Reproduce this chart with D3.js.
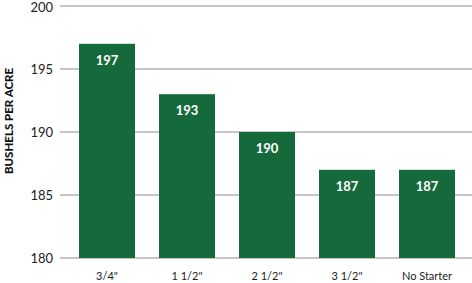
<!DOCTYPE html>
<html><head><meta charset="utf-8">
<script src="https://cdn.jsdelivr.net/npm/d3@7"></script>
<style>body{margin:0;background:#fff}svg{display:block}</style>
</head><body>
<script>
const categories = ["3/4\"", "1 1/2\"", "2 1/2\"", "3 1/2\"", "No Starter"];
const values = [197, 193, 190, 187, 187];
const yTicks = [180, 185, 190, 195, 200];

const W = 472, H = 283;
const svg = d3.select("body").append("svg").attr("width", W).attr("height", H);
const x = d3.scaleBand().domain(categories).range([67, 467]).paddingInner(0.3).paddingOuter(0.15);
const y = d3.scaleLinear().domain([180, 200]).range([258, 6]);

// gridlines
svg.append("g").selectAll("line").data(yTicks).join("line")
  .attr("x1", 60).attr("x2", W).attr("y1", d => y(d)).attr("y2", d => y(d))
  .attr("stroke", "#b3b3b3").attr("stroke-width", 1.5);

// y tick labels
svg.append("g").selectAll("text").data(yTicks).join("text")
  .attr("x", 53).attr("y", d => Math.max(y(d), 7)).attr("dy", "0.35em")
  .attr("text-anchor", "end").attr("font-family", "Lato, 'Open Sans', sans-serif")
  .attr("font-size", 13).attr("fill", "#222").text(d => d);

// bars
svg.append("g").selectAll("rect").data(values).join("rect")
  .attr("x", (d, i) => x(categories[i])).attr("width", x.bandwidth())
  .attr("y", d => y(d)).attr("height", d => y(180) - y(d))
  .attr("fill", "#156a3b");

// bar labels
svg.append("g").selectAll("text").data(values).join("text")
  .attr("x", (d, i) => x(categories[i]) + x.bandwidth() / 2).attr("y", d => y(d) + 21)
  .attr("text-anchor", "middle").attr("font-family", "Lato, 'Open Sans', sans-serif")
  .attr("font-weight", "bold").attr("font-size", 13).attr("fill", "#fff").text(d => d);

// x labels
svg.append("g").selectAll("text").data(categories).join("text")
  .attr("x", d => x(d) + x.bandwidth() / 2).attr("y", 276).attr("dy", "0.35em")
  .attr("text-anchor", "middle").attr("font-family", "Lato, 'Open Sans', sans-serif")
  .attr("font-size", 11).attr("fill", "#222").text(d => d);

// y axis title
svg.append("text").attr("transform", "translate(13,121) rotate(-90)")
  .attr("text-anchor", "middle").attr("font-family", "Lato, 'Open Sans', sans-serif")
  .attr("font-weight", "900").attr("font-size", 11.5).attr("fill", "#111")
  .text("BUSHELS PER ACRE");
</script>
</body></html>
